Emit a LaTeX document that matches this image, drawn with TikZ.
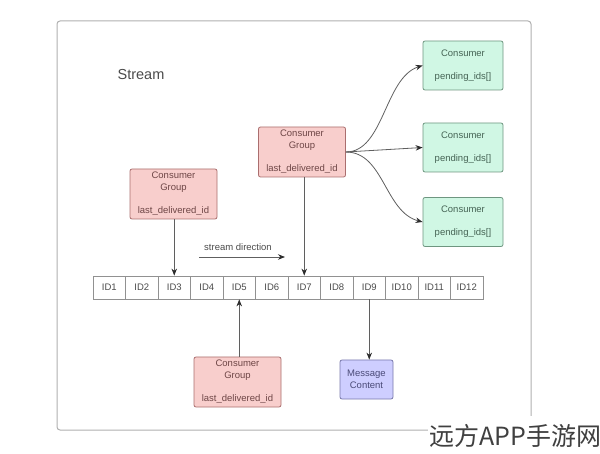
\documentclass[tikz,border=0pt]{standalone}
\usepackage{fontspec}
\setmainfont{Liberation Sans}
\newfontfamily\cjk{Noto Sans CJK SC}
\usetikzlibrary{arrows.meta}
\definecolor{frameC}{RGB}{175,175,175}
\definecolor{lineC}{RGB}{95,95,95}
\definecolor{tipC}{RGB}{45,45,45}
\definecolor{pinkF}{RGB}{248,206,204}
\definecolor{pinkD}{RGB}{170,110,110}
\definecolor{pinkT}{RGB}{110,70,70}
\definecolor{greenF}{RGB}{208,247,228}
\definecolor{greenD}{RGB}{110,150,128}
\definecolor{greenT}{RGB}{70,100,85}
\definecolor{blueF}{RGB}{206,206,255}
\definecolor{blueD}{RGB}{120,120,170}
\definecolor{blueT}{RGB}{75,75,120}
\definecolor{idD}{RGB}{145,145,145}
\definecolor{txtC}{RGB}{75,75,75}
\tikzset{
  cgbox/.style={draw=pinkD, fill=pinkF, rounded corners=2pt, line width=0.8pt,
    minimum width=87pt, minimum height=50pt, inner sep=0pt, align=center,
    text=pinkT, font=\fontsize{9.5}{12}\selectfont},
  conbox/.style={draw=greenD, fill=greenF, rounded corners=2pt, line width=0.8pt,
    minimum width=80pt, minimum height=49pt, inner sep=0pt, align=center,
    text=greenT, font=\fontsize{9.5}{12}\selectfont},
  msgbox/.style={draw=blueD, fill=blueF, rounded corners=2pt, line width=0.8pt,
    minimum width=53pt, minimum height=39pt, inner sep=0pt, align=center,
    text=blueT, font=\fontsize{9.5}{12}\selectfont},
  idcell/.style={draw=idD, fill=white, line width=0.8pt, minimum width=32.5pt,
    minimum height=23pt, inner sep=0pt, text=txtC, font=\fontsize{9.5}{11}\selectfont},
  conn/.style={draw=lineC, line width=0.8pt, -{Stealth[length=7pt,width=5.5pt,color=tipC]}},
}
\begin{document}
\begin{tikzpicture}[x=1pt,y=-1pt]
\useasboundingbox (0,0) rectangle (600,454);
% outer frame
\draw[frameC, line width=1pt, rounded corners=3pt] (57,21) rectangle (531,430);
\node[text=txtC, font=\fontsize{14.5}{16}\selectfont] (stream) at (141,75) {Stream};
% ID row
\foreach \i in {1,...,12} {
  \node[idcell] (id\i) at ({93+32.5*(\i-0.5)},287.5) {ID\i};
}
% consumer groups
\node[cgbox] (cgL) at (173.5,194) {Consumer\\Group\\[11pt]last\_delivered\_id};
\node[cgbox] (cgM) at (302,152) {Consumer\\Group\\[11pt]last\_delivered\_id};
\node[cgbox] (cgB) at (237.5,382) {Consumer\\Group\\[11pt]last\_delivered\_id};
\node[msgbox] (msg) at (366.5,379.5) {Message\\Content};
% consumers
\node[conbox] (con1) at (463,65.5) {Consumer\\[11pt]pending\_ids[]};
\node[conbox] (con2) at (463,147.5) {Consumer\\[11pt]pending\_ids[]};
\node[conbox] (con3) at (463,222) {Consumer\\[11pt]pending\_ids[]};
% stream direction
\node[text=txtC, font=\fontsize{9.5}{11}\selectfont] (dir) at (238,247) {stream direction};
\coordinate (dirA) at (199,257);
\coordinate (dirB) at (285,257);
\draw[conn] (dirA) -- (dirB);
% connectors
\draw[conn] (cgL.south -| id3) -- (id3.north);
\draw[conn] (cgM.south -| id7) -- (id7.north);
\draw[conn] (cgB.north -| id5) -- (id5.south);
\draw[conn] (id9.south) -- (msg.north -| id9);
\draw[conn] (cgM.east) .. controls +(38,0) and +(-38,12) .. (con1.west);
\draw[conn] (cgM.east) -- (con2.west);
\draw[conn] (cgM.east) .. controls +(38,0) and +(-38,-10) .. (con3.west);
% watermark
\fill[white] (428,416) rectangle (600,454);
\node[anchor=west, text=black!75, font=\cjk\fontsize{25}{28}\selectfont, inner sep=0pt] (wm) at (429,436) {远方APP手游网};
\end{tikzpicture}
\end{document}
